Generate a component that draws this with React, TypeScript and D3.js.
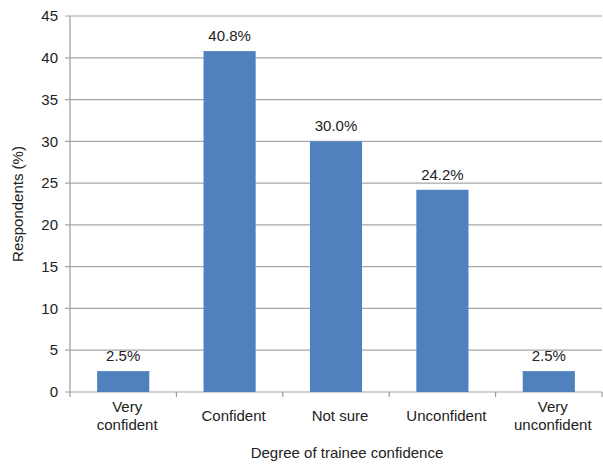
import React from 'react'
import * as d3 from 'd3'

const categories = ['Very confident', 'Confident', 'Not sure', 'Unconfident', 'Very unconfident']
const tickLines = [['Very', 'confident'], ['Confident'], ['Not sure'], ['Unconfident'], ['Very', 'unconfident']]
const values = [2.5, 40.8, 30.0, 24.2, 2.5]
const yTicks = [0, 5, 10, 15, 20, 25, 30, 35, 40, 45]

const width = 603
const height = 464
const marginLeft = 70
const marginRight = 1
const marginTop = 16
const marginBottom = 72
const font = 'Liberation Sans, Arial, sans-serif'
const fs = 15

export default function App(): JSX.Element {
  const x = d3
    .scaleBand()
    .domain(categories)
    .range([marginLeft, width - marginRight])
    .paddingInner(0.51)
    .paddingOuter(0.255)
  const y = d3
    .scaleLinear()
    .domain([0, 45])
    .range([height - marginBottom, marginTop])

  const step = x.step()
  const bounds = d3.range(categories.length + 1).map(i => marginLeft + i * step)

  return (
    <svg
      width={width}
      height={height}
      style={{ position: 'absolute', left: 0, top: 0, background: '#fff' }}
      fontFamily={font}
    >
      {/* gridlines and y ticks */}
      {yTicks.map(t => (
        <g key={t}>
          <line x1={marginLeft - 5} x2={width - marginRight} y1={y(t)} y2={y(t)} stroke="#a6a6a6" strokeWidth={1.2} />
          <text x={marginLeft - 12} y={y(t)} dy="0.35em" textAnchor="end" fontSize={fs} fill="#222">
            {t}
          </text>
        </g>
      ))}
      {/* y axis line */}
      <line x1={marginLeft} x2={marginLeft} y1={y(45)} y2={y(0)} stroke="#999" strokeWidth={1.2} />
      {/* category tick marks */}
      {bounds.map((b, i) => (
        <line key={i} x1={b} x2={b} y1={y(0)} y2={y(0) + 5} stroke="#999" strokeWidth={1.2} />
      ))}
      {/* bars */}
      {categories.map((c, i) => (
        <rect key={c} x={x(c)} y={y(values[i])} width={x.bandwidth()} height={y(0) - y(values[i])} fill="#4f81bd" />
      ))}
      {/* value labels */}
      {categories.map((c, i) => (
        <text
          key={c + '-l'}
          x={(x(c) as number) + x.bandwidth() / 2}
          y={y(values[i]) - 10}
          textAnchor="middle"
          fontSize={fs}
          fill="#222"
        >
          {values[i].toFixed(1) + '%'}
        </text>
      ))}
      {/* category labels */}
      {categories.map((c, i) => {
        const lines = tickLines[i]
        const cx = (x(c) as number) + x.bandwidth() / 2 + 4
        const startY = lines.length === 1 ? 421 : 412
        return (
          <text key={c + '-t'} x={cx} textAnchor="middle" fontSize={fs} fill="#222">
            {lines.map((l, j) => (
              <tspan key={j} x={cx} y={startY + j * 18}>
                {l}
              </tspan>
            ))}
          </text>
        )
      })}
      {/* axis titles */}
      <text x={347} y={458} textAnchor="middle" fontSize={fs} fill="#222">
        Degree of trainee confidence
      </text>
      <text
        transform={`translate(23,${(y(0) + y(45)) / 2}) rotate(-90)`}
        textAnchor="middle"
        fontSize={fs}
        fill="#222"
      >
        Respondents (%)
      </text>
    </svg>
  )
}
